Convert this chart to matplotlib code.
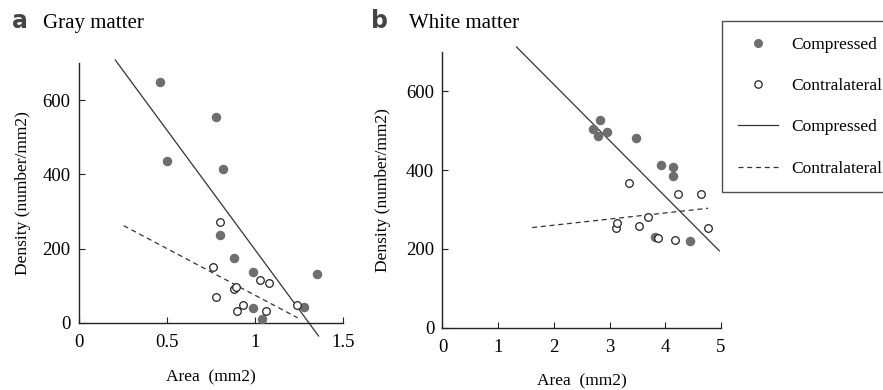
# density vs area, gray and white matter panels

import numpy as np
import matplotlib
matplotlib.use('Agg')
from matplotlib import pyplot as plt
from matplotlib.lines import Line2D

plt.rcParams['font.family'] = ['Liberation Serif', 'DejaVu Serif']

# gray matter (panel a)
gm_comp_x = [0.46, 0.78, 0.50, 0.82, 0.80, 0.88, 0.99, 0.99, 1.04, 1.28, 1.35]
gm_comp_y = [648, 554, 436, 415, 236, 176, 137, 41, 11, 42, 133]
gm_contra_x = [0.80, 0.76, 1.03, 1.08, 0.88, 0.89, 0.78, 0.93, 0.90, 1.06, 1.24]
gm_contra_y = [272, 152, 116, 108, 92, 98, 71, 48, 33, 33, 48]
gm_fit_comp_x = [0.206, 1.361]
gm_fit_comp_y = [708, -35]
gm_fit_contra_x = [0.254, 1.242]
gm_fit_contra_y = [262, 14]

# white matter (panel b)
wm_comp_x = [2.70, 2.83, 2.80, 2.95, 3.48, 3.92, 4.13, 4.14, 3.82, 4.44]
wm_comp_y = [503, 526, 486, 497, 481, 412, 407, 384, 231, 221]
wm_contra_x = [3.35, 4.23, 4.64, 3.69, 3.53, 3.11, 3.14, 3.87, 4.17, 4.76]
wm_contra_y = [366, 338, 338, 282, 259, 253, 265, 228, 223, 253]
wm_fit_comp_x = [1.33, 4.97]
wm_fit_comp_y = [712, 195]
wm_fit_contra_x = [1.61, 4.77]
wm_fit_contra_y = [254, 303]

fill_col = '#6e6e6e'
line_col = '#333333'
fs = 12.5
tick_fs = 13.5

fig = plt.figure(figsize=(8.83, 3.9), dpi=100)

def panel(ax, cx, cy, ox, oy, fcx, fcy, fox, foy, xmax, xticks, xticklabels, ylabpad):
    ax.scatter(cx, cy, s=34, color=fill_col, edgecolor=fill_col, zorder=3)
    ax.scatter(ox, oy, s=30, facecolor='white', edgecolor='#222222', linewidth=0.9, zorder=3)
    ax.plot(fcx, fcy, color=line_col, lw=0.9, clip_on=False)
    ax.plot(fox, foy, color=line_col, lw=0.9, ls=(0, (4, 3)), clip_on=False)
    ax.set_xlim(0, xmax)
    ax.set_ylim(0, 700)
    ax.set_xticks(xticks)
    ax.set_xticklabels(xticklabels)
    ax.set_yticks([0, 200, 400, 600])
    for s in ['top', 'right']:
        ax.spines[s].set_visible(False)
    for s in ['left', 'bottom']:
        ax.spines[s].set_color('#222222')
        ax.spines[s].set_linewidth(1.0)
    ax.tick_params(direction='in', length=4, width=0.8, labelsize=tick_fs, color='#222222')
    ax.tick_params(axis='x', pad=8)
    ax.tick_params(axis='y', pad=6)
    ax.set_xlabel('Area  (mm2)', fontsize=fs, labelpad=13)
    ax.set_ylabel('Density (number/mm2)', fontsize=fs, labelpad=ylabpad)
    ax.patch.set_alpha(0)

ax1 = fig.add_axes([0.0895, 0.1718, 0.299, 0.6667])
panel(ax1, gm_comp_x, gm_comp_y, gm_contra_x, gm_contra_y,
      gm_fit_comp_x, gm_fit_comp_y, gm_fit_contra_x, gm_fit_contra_y,
      1.5, [0, 0.5, 1, 1.5], ['0', '0.5', '1', '1.5'], 8)

ax2 = fig.add_axes([0.5011, 0.1597, 0.3154, 0.7077])
panel(ax2, wm_comp_x, wm_comp_y, wm_contra_x, wm_contra_y,
      wm_fit_comp_x, wm_fit_comp_y, wm_fit_contra_x, wm_fit_contra_y,
      5, [0, 1, 2, 3, 4, 5], ['0', '1', '2', '3', '4', '5'], 11)

# panel letters and titles
fig.text(12/883, 1 - 28/390, 'a', fontsize=17, fontweight='bold', family='DejaVu Sans', color='#444444')
fig.text(43/883, 1 - 28/390, 'Gray matter', fontsize=15)
fig.text(371/883, 1 - 28/390, 'b', fontsize=17, fontweight='bold', family='DejaVu Sans', color='#444444')
fig.text(409/883, 1 - 28/390, 'White matter', fontsize=15)

# legend
handles = [
    Line2D([], [], ls='none', marker='o', ms=5.5, color=fill_col),
    Line2D([], [], ls='none', marker='o', ms=5.3, mfc='white', mec='#222222', mew=0.9),
    Line2D([], [], color=line_col, lw=0.9),
    Line2D([], [], color=line_col, lw=0.9, ls=(0, (4, 3))),
]
labels = ['Compressed', 'Contralateral', 'Compressed', 'Contralateral']
leg = fig.legend(handles, labels, loc='upper left', bbox_to_anchor=(722/883, 1 - 21/390),
                 fontsize=fs, frameon=True, fancybox=False, borderaxespad=0,
                 handlelength=2.3, handletextpad=0.8, labelspacing=1.45, borderpad=0.9)
leg.get_frame().set_edgecolor('#222222')
leg.get_frame().set_linewidth(1.0)

fig.savefig('out.png', dpi=100)
